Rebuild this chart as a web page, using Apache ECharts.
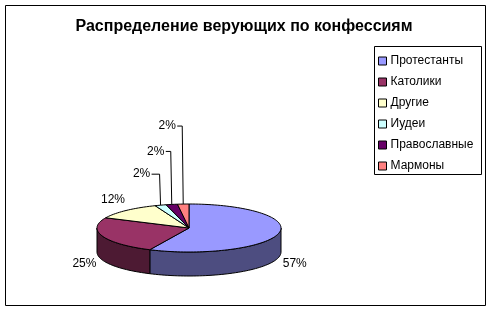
<!DOCTYPE html>
<html><head><meta charset="utf-8">
<script src="https://cdn.jsdelivr.net/npm/echarts@6/dist/echarts.min.js"></script>
<style>html,body{margin:0;padding:0;background:#fff}#c{width:492px;height:312px}</style>
</head><body><div id="c"></div><script>
// ---- data ----
const categories = ['Протестанты', 'Католики', 'Другие', 'Иудеи', 'Православные', 'Мармоны'];
const values = [57, 25, 12, 2, 2, 2];
const colors = ['#9999FF', '#993366', '#FFFFCC', '#CCFFFF', '#660066', '#FF8080'];
const percentLabels = values.map(v => v + '%');
const titleText = 'Распределение верующих по конфессиям';

// ---- layout ----
const FONT = '"Liberation Sans", Arial, sans-serif';
const PIE = { cx: 189, cy: 228, rx: 92, ry: 24, depth: 24 };
const labelLayout = [
  { dx: 16, dy: 30 },
  { dx: -18, dy: 28 },
  { dx: -13, dy: -11 },
  { dx: -19, dy: -31, leader: true },
  { dx: -16, dy: -53, leader: true },
  { dx: -16, dy: -78, leader: true }
];

const total = values.reduce((a, b) => a + b, 0);
const starts = [];
let acc = 0;
values.forEach(v => { starts.push(acc / total * 360); acc += v; });

function pt(deg, dy) {
  const r = deg * Math.PI / 180;
  return [PIE.cx + PIE.rx * Math.sin(r), PIE.cy - PIE.ry * Math.cos(r) + dy];
}
function arc(a0, a1, dy) {
  const pts = [];
  const n = Math.max(2, Math.ceil(Math.abs(a1 - a0) / 2));
  for (let i = 0; i <= n; i++) pts.push(pt(a0 + (a1 - a0) * i / n, dy));
  return pts;
}
function darker(hex) {
  const n = parseInt(hex.slice(1), 16);
  const r = Math.round(((n >> 16) & 255) / 2), g = Math.round(((n >> 8) & 255) / 2), b = Math.round((n & 255) / 2);
  return 'rgb(' + r + ',' + g + ',' + b + ')';
}

function makeRender(idx) {
  return function (params, api) {
    const v = api.value(0);
    const a0 = starts[idx];
    const a1 = a0 + v / total * 360;
    const children = [];
    // side (front half only: 90..270)
    const s0 = Math.max(a0, 90), s1 = Math.min(a1, 270);
    if (s1 > s0) {
      const top = arc(s0, s1, 0);
      const bot = arc(s1, s0, PIE.depth);
      children.push({
        type: 'polygon',
        shape: { points: top.concat(bot) },
        style: { fill: darker(colors[idx]), stroke: '#000', lineWidth: 1 }
      });
    }
    // top face
    children.push({
      type: 'polygon',
      shape: { points: [[PIE.cx, PIE.cy]].concat(arc(a0, a1, 0)) },
      style: { fill: colors[idx], stroke: '#000', lineWidth: 1 }
    });
    // label
    const mid = (a0 + a1) / 2;
    const anc = pt(mid, 0);
    const L = labelLayout[idx];
    const lx = anc[0] + L.dx, ly = anc[1] + L.dy;
    children.push({
      type: 'text',
      style: { text: percentLabels[idx], x: lx, y: ly, align: 'center', verticalAlign: 'middle',
        font: '12px ' + FONT, fill: '#000' }
    });
    if (L.leader) {
      children.push({
        type: 'polyline',
        shape: { points: [[anc[0], anc[1]], [anc[0] - 1, ly], [lx + 10, ly]] },
        style: { stroke: '#000', lineWidth: 1, fill: null }
      });
    }
    return { type: 'group', children: children };
  };
}

const series = categories.map((name, i) => ({
  type: 'custom',
  name: name,
  coordinateSystem: 'none',
  itemStyle: { color: colors[i] },
  data: [[values[i]]],
  renderItem: makeRender(i),
  silent: true
}));

const chart = echarts.init(document.getElementById('c'), null, { renderer: 'canvas' });
chart.setOption({
  animation: false,
  backgroundColor: '#fff',
  color: colors,
  legend: {
    data: categories,
    orient: 'vertical',
    left: 378,
    top: 55,
    padding: 0,
    icon: 'rect',
    itemWidth: 8,
    itemHeight: 8,
    itemGap: 9,
    itemStyle: { borderColor: '#000', borderWidth: 1 },
    textStyle: { fontSize: 12, color: '#000', fontFamily: FONT, padding: [0, 0, 0, -1] },
    selectedMode: false
  },
  graphic: [
    { type: 'rect', shape: { x: 5.5, y: 5.5, width: 480, height: 300 },
      style: { fill: null, stroke: '#000', lineWidth: 1 }, z: 100 },
    { type: 'rect', shape: { x: 374.5, y: 46.5, width: 107, height: 128 },
      style: { fill: null, stroke: '#000', lineWidth: 1 }, z: 100 },
    { type: 'text', x: 244, y: 27,
      style: { text: titleText, align: 'center', verticalAlign: 'middle',
        font: 'bold 16px ' + FONT, fill: '#000' } }
  ],
  series: series
});
</script></body></html>
